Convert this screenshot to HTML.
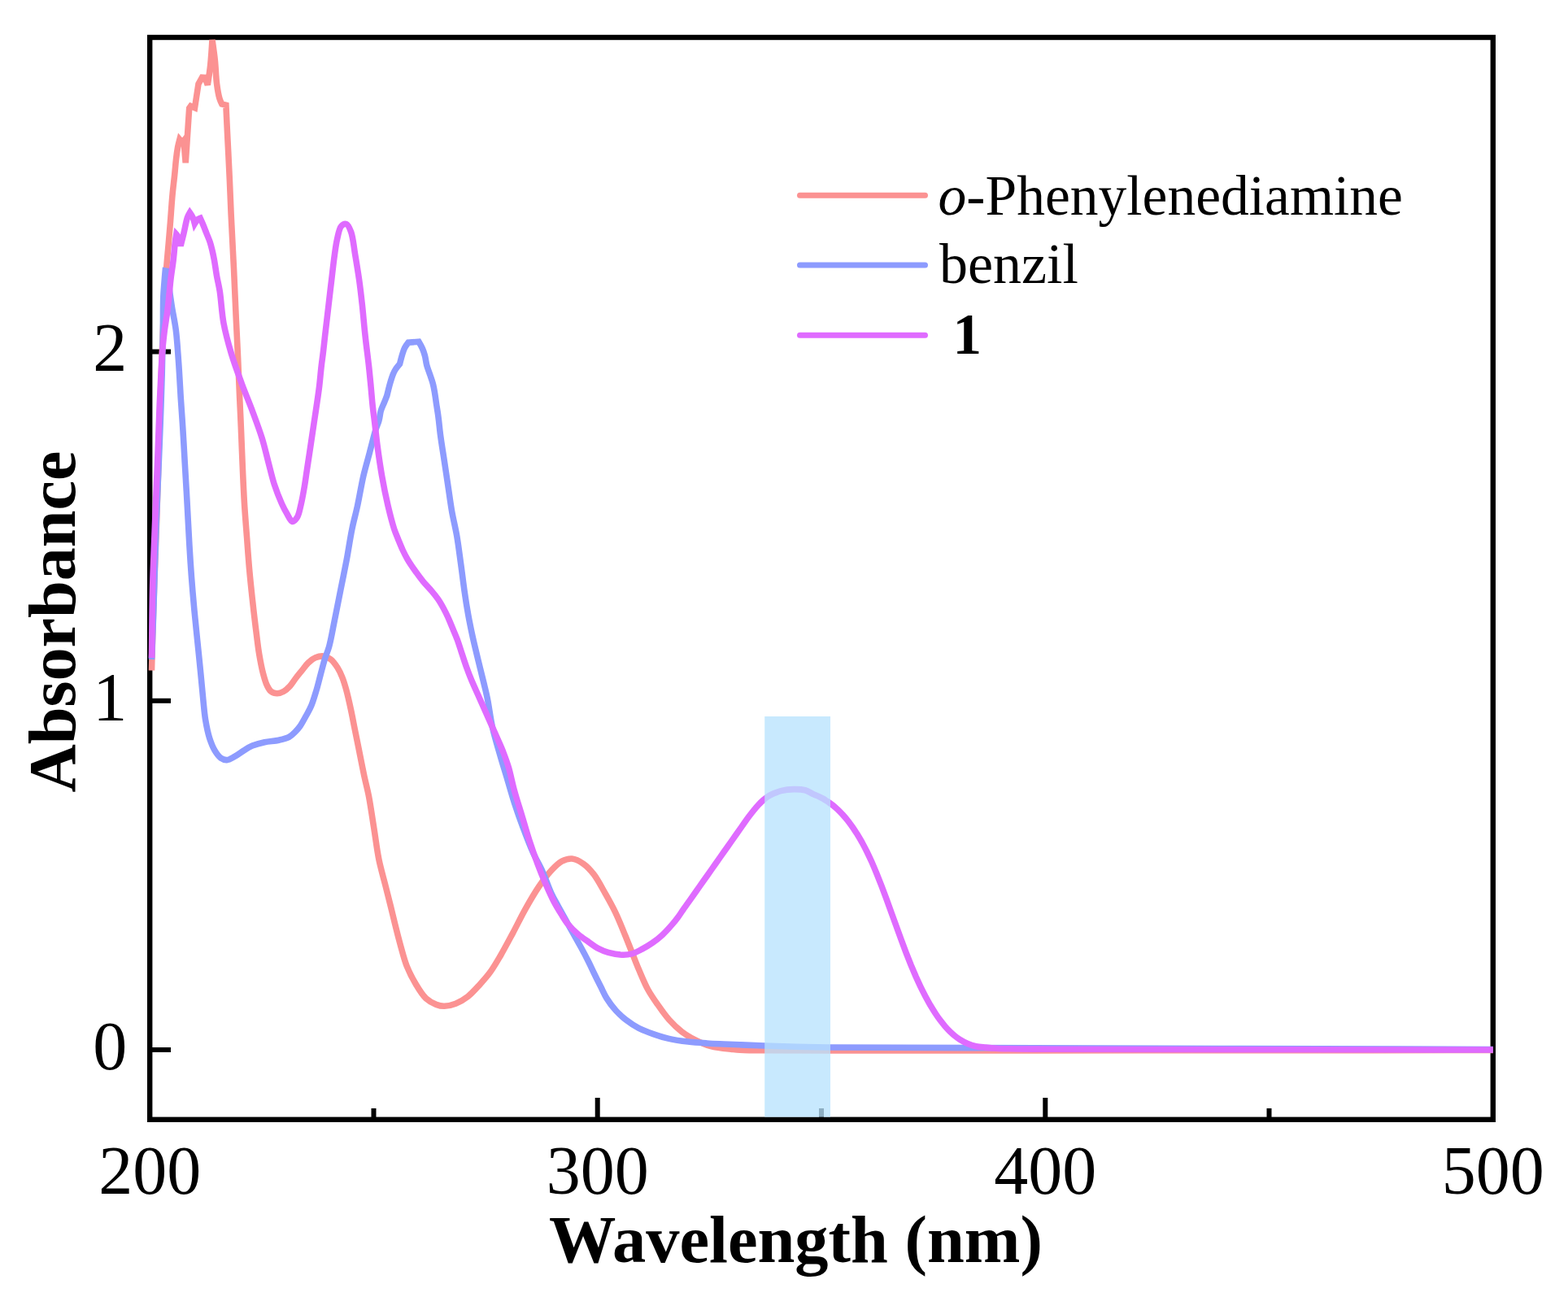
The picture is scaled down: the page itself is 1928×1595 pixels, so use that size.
<!DOCTYPE html>
<html><head><meta charset="utf-8"><title>Absorbance spectra</title>
<style>html,body{margin:0;padding:0;background:#fff;overflow:hidden}svg{display:block}</style>
</head><body>
<svg width="1928" height="1595" viewBox="0 0 1928 1595">
<rect x="0" y="0" width="1928" height="1595" fill="#ffffff"/>
<rect x="184.2" y="46.0" width="1651.6" height="1330.8" fill="none" stroke="#000" stroke-width="6.4"/>
<line x1="184.2" y1="1291.0" x2="210" y2="1291.0" stroke="#000" stroke-width="6"/>
<line x1="184.2" y1="861.8" x2="210" y2="861.8" stroke="#000" stroke-width="6"/>
<line x1="184.2" y1="432.5" x2="210" y2="432.5" stroke="#000" stroke-width="6"/>
<line x1="734.7" y1="1376.8" x2="734.7" y2="1350" stroke="#000" stroke-width="6"/>
<line x1="1285.3" y1="1376.8" x2="1285.3" y2="1350" stroke="#000" stroke-width="6"/>
<line x1="459.5" y1="1376.8" x2="459.5" y2="1363" stroke="#000" stroke-width="6"/>
<line x1="1010.0" y1="1376.8" x2="1010.0" y2="1363" stroke="#000" stroke-width="6"/>
<line x1="1560.5" y1="1376.8" x2="1560.5" y2="1363" stroke="#000" stroke-width="6"/>
<path d="M186.5,824.5 C187.1,803.0 187.6,781.1 188.3,760.0 C188.9,739.6 189.7,720.0 190.4,700.0 C191.1,680.0 191.9,660.0 192.6,640.0 C193.3,620.0 194.0,600.0 194.6,580.0 C195.2,560.0 195.5,540.0 196.1,520.0 C196.7,500.0 197.7,479.1 198.4,460.0 C199.0,442.6 199.5,426.2 200.2,410.0 C200.9,394.6 201.6,379.1 202.4,365.0 C203.1,352.6 203.8,341.2 204.6,330.0 C205.4,319.6 206.4,309.5 207.2,300.0 C207.9,291.3 208.6,284.0 209.3,275.0 C210.2,264.3 211.0,250.7 212.0,240.0 C212.8,231.0 213.9,222.8 214.7,215.0 C215.4,208.2 215.8,202.0 216.5,196.0 C217.1,190.7 217.8,185.4 218.6,181.0 C219.3,177.5 220.9,171.5 220.9,171.5 C220.9,171.5 224.3,175.4 224.3,175.4 C224.3,175.4 226.0,173.2 226.0,173.2 C226.0,173.2 228.2,200.3 228.2,200.3 C228.2,200.3 229.3,184.8 229.9,175.4 C230.7,163.1 232.7,133.0 232.7,133.0 C232.7,133.0 234.5,130.5 234.5,130.5 C234.5,130.5 239.5,132.6 239.5,132.6 C239.5,132.6 244.0,103.2 244.0,103.2 C244.0,103.2 248.5,95.3 248.5,95.3 C248.5,95.3 252.0,95.5 252.0,95.5 C252.0,95.5 255.3,104.3 255.3,104.3 C255.3,104.3 257.8,88.6 258.7,80.0 C259.7,70.3 261.0,49.0 261.0,49.0 C261.0,49.0 263.4,65.2 264.3,73.9 C265.3,83.3 265.5,94.6 266.6,103.2 C267.5,110.0 268.6,116.8 270.0,121.3 C270.8,124.1 272.8,128.0 272.8,128.0 C272.8,128.0 277.9,129.2 277.9,129.2 C277.9,129.2 278.6,144.3 279.0,152.9 C279.5,163.2 280.1,175.5 280.7,186.7 C281.2,197.8 281.8,208.2 282.3,220.0 C282.9,233.4 283.5,249.1 284.1,262.9 C284.7,275.8 285.4,288.7 286.0,300.5 C286.5,310.9 286.9,318.3 287.5,330.0 C288.3,347.0 289.4,373.3 290.3,392.7 C291.1,409.6 291.9,424.0 292.6,440.0 C293.3,456.4 294.0,474.8 294.7,490.0 C295.3,502.7 295.8,512.8 296.3,525.0 C296.9,538.4 297.3,552.1 298.0,567.0 C298.7,583.9 299.6,604.5 300.6,621.0 C301.5,635.1 302.5,646.9 303.5,660.0 C304.5,673.2 305.4,686.9 306.6,700.0 C307.7,712.7 309.0,724.7 310.4,737.6 C311.9,751.3 313.8,767.7 315.4,780.0 C316.6,789.5 317.4,797.0 318.8,805.1 C320.1,812.7 321.5,820.3 323.2,827.0 C324.7,832.7 326.2,838.5 328.2,842.7 C329.7,845.8 331.0,848.5 333.2,850.2 C335.3,851.8 338.2,852.7 340.8,852.7 C343.5,852.7 346.4,851.6 348.9,850.2 C351.6,848.7 354.1,846.4 356.4,843.9 C358.9,841.2 360.9,837.6 363.3,834.5 C365.7,831.3 368.2,828.3 370.8,825.1 C373.5,821.8 376.0,817.9 379.0,815.1 C381.7,812.5 384.6,810.1 387.8,808.8 C390.9,807.5 394.6,806.6 397.8,807.0 C400.9,807.3 403.9,808.7 406.6,810.7 C409.8,813.1 412.6,817.3 415.0,821.0 C417.4,824.8 419.3,829.0 421.0,833.3 C422.8,837.9 424.1,842.3 425.6,847.8 C427.6,855.0 429.7,864.5 431.5,872.9 C433.3,881.2 434.7,889.1 436.5,897.9 C438.5,907.8 440.8,919.4 442.8,929.3 C444.6,938.3 446.2,946.6 448.0,955.0 C449.8,963.2 451.7,970.1 453.5,979.2 C455.7,990.7 457.7,1005.3 459.8,1018.4 C461.9,1031.5 463.5,1045.3 466.0,1057.6 C468.3,1068.7 471.4,1078.9 473.9,1088.9 C476.2,1098.0 478.4,1106.6 480.5,1115.0 C482.4,1122.8 484.1,1129.9 486.0,1137.6 C488.0,1145.8 490.2,1154.4 492.5,1162.7 C494.9,1171.1 496.9,1179.8 500.1,1187.8 C503.2,1195.6 507.2,1203.4 511.3,1210.3 C515.1,1216.7 519.2,1223.6 523.9,1227.9 C527.7,1231.4 532.3,1233.8 536.4,1235.4 C539.8,1236.7 542.9,1237.4 546.5,1237.3 C550.7,1237.2 555.7,1236.0 560.3,1234.2 C565.4,1232.2 570.5,1229.1 575.3,1225.4 C580.6,1221.3 585.6,1215.4 590.3,1210.3 C594.8,1205.4 598.9,1200.8 602.9,1195.3 C607.3,1189.2 611.1,1182.5 615.4,1175.2 C620.3,1166.8 625.5,1156.9 630.5,1147.6 C635.6,1138.1 640.2,1128.3 645.5,1118.8 C650.9,1109.2 656.7,1099.0 662.5,1090.5 C667.6,1083.0 673.0,1075.7 678.2,1070.2 C682.4,1065.7 686.3,1061.6 690.8,1059.2 C694.7,1057.1 699.1,1055.6 703.3,1056.0 C707.9,1056.4 713.1,1059.3 717.4,1062.3 C722.0,1065.5 725.9,1069.8 729.9,1074.9 C734.9,1081.3 739.5,1090.5 744.0,1098.4 C748.4,1106.2 752.6,1113.6 756.6,1121.9 C760.9,1130.9 765.2,1141.7 768.8,1150.5 C771.9,1158.0 774.3,1164.4 777.1,1171.3 C779.9,1178.2 782.3,1184.8 785.4,1192.0 C788.8,1199.9 792.5,1209.2 796.6,1216.7 C800.3,1223.5 804.4,1229.3 808.7,1235.4 C813.1,1241.7 817.6,1248.3 822.7,1254.0 C827.6,1259.5 833.0,1264.7 838.6,1269.0 C843.9,1273.1 849.5,1276.3 855.4,1279.2 C861.3,1282.2 867.2,1284.9 874.0,1286.7 C881.8,1288.8 893.4,1289.7 900.0,1290.4 C904.0,1290.8 905.6,1291.0 909.7,1291.2 C917.0,1291.6 925.9,1291.7 940.0,1291.8 C972.3,1292.1 1038.4,1292.0 1100.0,1292.0 C1184.4,1292.0 1290.7,1291.9 1400.0,1291.8 C1531.7,1291.7 1690.5,1291.6 1835.8,1291.5" fill="none" stroke="#FB9292" stroke-width="7.6" stroke-linejoin="miter" stroke-miterlimit="3" stroke-linecap="butt"/>
<path d="M186.5,811.0 C187.2,794.0 187.9,777.7 188.5,760.0 C189.2,740.8 189.7,720.0 190.3,700.0 C190.9,680.0 191.6,660.0 192.3,640.0 C193.1,620.0 194.0,600.0 194.8,580.0 C195.6,560.0 196.5,540.0 197.2,520.0 C197.9,500.0 198.7,479.1 199.2,460.0 C199.7,442.6 200.0,426.2 200.3,410.0 C200.6,394.6 200.3,377.0 200.8,365.0 C201.1,357.0 201.8,350.8 202.2,345.0 C202.5,340.5 203.2,333.0 203.2,333.0 C203.2,333.0 205.8,333.5 205.8,333.5 C205.8,333.5 207.6,350.3 208.6,358.0 C209.5,365.0 210.4,370.8 211.5,378.0 C212.9,386.6 215.0,395.9 216.3,406.0 C217.8,417.7 218.5,430.7 219.5,444.0 C220.6,458.6 221.4,475.2 222.3,490.0 C223.2,503.8 224.2,516.7 225.0,530.0 C225.8,543.3 226.5,555.9 227.3,570.0 C228.2,585.8 229.3,603.5 230.2,620.3 C231.1,637.0 232.0,654.8 232.9,670.5 C233.7,684.5 234.5,696.8 235.5,710.0 C236.5,723.3 237.7,737.0 238.9,750.2 C240.1,762.9 241.4,775.3 242.7,787.8 C244.0,800.3 245.3,813.1 246.5,825.4 C247.7,837.2 248.7,849.4 249.8,860.0 C250.7,869.0 251.3,877.0 252.6,885.1 C253.9,892.8 255.5,900.9 257.6,907.6 C259.4,913.2 261.4,918.4 263.9,922.7 C266.1,926.4 268.6,930.1 271.4,932.1 C273.7,933.7 276.2,934.7 278.9,934.6 C282.0,934.5 285.5,932.0 288.9,930.2 C292.6,928.2 296.5,925.0 300.2,922.7 C303.6,920.6 306.5,918.7 310.3,917.1 C314.7,915.3 320.1,913.8 325.3,912.7 C330.9,911.5 337.6,911.4 342.9,910.2 C347.5,909.2 351.9,908.3 355.4,906.4 C358.4,904.8 360.6,902.4 362.9,900.1 C365.1,897.9 367.0,895.8 369.0,893.0 C371.5,889.4 374.2,884.3 376.5,880.0 C378.7,875.9 380.9,872.4 382.8,867.8 C385.1,862.3 387.1,855.3 389.0,849.0 C390.9,842.8 392.3,836.5 394.0,830.2 C395.7,823.9 397.3,817.3 399.1,811.3 C400.8,805.6 402.9,801.4 404.7,795.0 C407.1,786.2 409.1,774.2 411.3,763.2 C413.7,751.2 416.3,738.1 418.8,725.6 C421.3,713.1 423.9,700.5 426.3,688.0 C428.6,675.5 430.5,662.0 432.9,650.4 C435.0,640.3 437.3,632.3 439.5,622.2 C442.0,610.6 444.3,596.2 447.0,584.6 C449.4,574.5 452.0,565.8 454.5,556.4 C457.0,547.0 459.8,535.4 462.0,528.2 C463.4,523.6 465.0,520.8 466.0,517.0 C467.1,513.2 467.2,509.1 468.3,505.3 C469.4,501.5 471.5,497.5 472.8,494.1 C473.9,491.3 475.8,486.5 475.8,486.5 C475.8,486.5 478.3,476.1 479.6,471.5 C480.8,467.4 482.0,463.3 483.3,460.2 C484.3,457.8 485.0,456.2 486.3,454.2 C487.7,451.9 491.6,447.4 491.6,447.4 C491.6,447.4 493.5,439.6 494.6,436.1 C495.5,433.1 496.3,430.3 497.6,427.8 C498.8,425.4 502.1,421.1 502.1,421.1 C502.1,421.1 514.9,420.3 514.9,420.3 C514.9,420.3 518.1,425.7 519.4,428.6 C520.7,431.5 521.6,434.4 522.5,437.6 C523.4,441.1 523.7,445.2 524.7,448.9 C525.7,452.7 527.2,456.4 528.5,460.2 C529.7,464.0 531.2,467.7 532.2,471.5 C533.2,475.2 533.8,478.8 534.5,482.8 C535.3,487.4 536.0,492.8 536.7,497.8 C537.5,502.8 538.3,507.4 539.0,512.9 C539.9,519.3 540.4,526.3 541.4,534.0 C542.6,543.4 544.5,554.9 546.1,565.4 C547.7,575.8 549.2,586.3 550.8,596.7 C552.4,607.2 553.7,617.7 555.5,628.1 C557.3,638.6 560.0,648.7 561.8,659.4 C563.7,670.6 565.1,682.4 566.7,693.8 C568.3,705.1 569.6,716.9 571.2,727.7 C572.6,737.5 574.0,746.5 575.7,755.9 C577.4,765.3 579.3,774.7 581.4,784.1 C583.5,793.5 585.8,802.9 588.1,812.3 C590.3,821.6 592.9,831.5 594.9,840.0 C596.6,847.2 598.0,852.4 599.5,860.0 C601.5,870.0 603.0,883.6 605.6,895.0 C608.1,906.1 611.5,917.1 614.6,927.7 C617.5,937.9 620.6,947.7 623.6,957.7 C626.6,967.7 629.3,977.8 632.6,987.8 C635.9,997.9 639.4,1007.9 643.2,1017.9 C647.0,1028.0 651.0,1038.6 655.2,1048.0 C659.0,1056.5 663.5,1063.8 667.2,1072.0 C671.0,1080.4 674.2,1090.5 677.7,1098.0 C680.5,1104.1 682.8,1107.9 686.1,1114.0 C690.5,1122.1 696.7,1133.3 701.7,1142.3 C706.3,1150.6 711.0,1158.9 714.9,1166.0 C718.1,1171.8 720.6,1176.6 723.3,1182.0 C726.0,1187.3 728.4,1192.7 731.0,1198.0 C733.6,1203.3 736.4,1208.9 739.0,1214.0 C741.4,1218.8 743.2,1223.3 746.1,1227.9 C749.2,1232.9 753.3,1238.4 757.3,1242.8 C761.1,1247.0 765.0,1250.5 769.5,1254.0 C774.3,1257.7 779.7,1261.4 785.4,1264.3 C791.2,1267.3 797.7,1269.6 804.0,1271.8 C810.2,1274.0 816.1,1275.9 822.7,1277.4 C830.0,1279.1 838.2,1280.2 846.0,1281.1 C853.8,1282.0 861.8,1282.5 869.4,1283.0 C876.5,1283.5 883.2,1283.7 890.0,1284.0 C896.6,1284.3 902.4,1284.5 909.7,1284.8 C918.7,1285.2 927.5,1285.6 940.0,1286.0 C960.3,1286.7 988.0,1287.5 1020.0,1288.0 C1068.0,1288.7 1132.4,1288.4 1200.0,1288.6 C1287.3,1288.9 1397.2,1289.2 1500.0,1289.5 C1608.8,1289.8 1723.9,1290.2 1835.8,1290.5" fill="none" stroke="#8D9BFE" stroke-width="7.6" stroke-linejoin="miter" stroke-miterlimit="3" stroke-linecap="butt"/>
<path d="M186.5,809.0 C186.9,779.3 187.0,747.0 187.7,720.0 C188.3,697.5 189.2,678.7 190.0,658.0 C190.8,637.1 191.7,614.8 192.5,595.0 C193.2,577.4 193.9,561.6 194.5,545.0 C195.1,528.6 195.7,511.1 196.3,496.0 C196.8,483.1 197.4,471.5 198.0,460.0 C198.6,449.5 199.0,439.5 199.8,430.0 C200.5,421.3 201.5,412.9 202.5,405.0 C203.4,398.0 204.6,391.7 205.5,385.0 C206.4,378.3 207.1,371.8 207.8,365.0 C208.6,357.8 209.1,350.2 210.0,342.8 C210.9,335.3 212.2,327.7 213.1,320.2 C214.0,312.8 214.6,303.9 215.3,298.0 C215.8,294.0 216.8,288.0 216.8,288.0 C216.8,288.0 217.8,289.1 218.3,290.1 C219.5,292.4 222.1,302.2 222.1,302.2 C222.1,302.2 224.6,292.5 225.9,287.1 C227.4,281.0 228.8,272.2 230.4,267.6 C231.4,264.9 233.4,261.5 233.4,261.5 C233.4,261.5 236.1,265.4 237.1,267.6 C238.1,269.9 239.4,275.1 239.4,275.1 C239.4,275.1 241.9,270.9 243.2,269.8 C244.2,269.0 246.2,268.3 246.2,268.3 C246.2,268.3 248.1,272.5 249.2,275.1 C250.6,278.4 252.2,282.6 253.7,286.4 C255.2,290.2 256.9,293.9 258.2,297.7 C259.4,301.4 260.3,305.2 261.2,309.0 C262.1,312.7 262.7,316.0 263.5,320.2 C264.5,325.7 265.4,332.8 266.5,339.1 C267.6,345.4 269.0,350.4 270.2,357.9 C271.9,368.7 272.6,384.6 275.0,397.6 C277.4,410.4 280.8,422.7 284.5,435.2 C288.3,447.8 293.1,460.6 297.6,472.8 C301.9,484.4 306.7,495.5 310.8,506.7 C314.8,517.5 318.9,528.3 322.1,538.7 C325.1,548.3 327.1,557.5 329.6,566.9 C332.1,576.3 334.2,586.1 337.1,595.1 C339.9,603.6 343.5,612.8 346.5,619.5 C348.7,624.4 350.7,628.2 353.0,632.0 C355.1,635.5 357.2,641.2 359.5,641.5 C361.4,641.7 363.9,638.6 365.5,636.0 C367.8,632.3 368.7,626.0 370.1,620.3 C371.7,613.6 373.2,605.2 374.4,598.0 C375.6,591.2 376.4,584.5 377.4,578.0 C378.3,571.9 379.2,566.3 380.1,560.2 C381.1,553.7 382.1,546.8 383.1,540.1 C384.1,533.4 385.1,526.7 386.1,520.0 C387.1,513.3 388.1,507.0 389.1,500.0 C390.2,492.4 391.5,484.2 392.5,476.0 C393.5,467.5 394.3,457.9 395.2,450.0 C396.0,443.4 396.8,438.1 397.5,432.0 C398.2,425.8 398.8,420.4 399.6,413.0 C400.8,402.6 402.6,387.4 404.0,375.4 C405.3,364.5 406.4,354.5 407.7,344.0 C408.9,333.6 410.2,321.8 411.5,312.7 C412.5,305.6 413.2,299.9 414.6,293.9 C415.9,288.3 417.0,280.9 419.7,278.0 C421.4,276.2 424.1,274.9 425.9,275.5 C428.2,276.3 430.0,280.9 431.6,285.1 C434.1,291.8 435.0,303.2 436.6,312.7 C438.3,322.8 440.1,333.5 441.6,344.0 C443.1,354.4 444.2,364.5 445.4,375.4 C446.7,387.4 447.7,400.5 449.1,413.0 C450.4,425.4 452.3,438.9 453.5,450.0 C454.5,459.1 455.2,466.7 456.0,475.0 C456.8,483.3 457.4,491.9 458.3,500.0 C459.1,507.6 460.1,514.4 461.0,522.0 C462.0,530.1 462.7,537.8 463.9,547.0 C465.4,558.3 467.3,572.1 469.5,584.6 C471.7,597.2 474.4,610.6 477.1,622.2 C479.5,632.3 482.2,642.9 484.6,650.4 C486.3,655.5 487.8,658.7 489.5,663.0 C491.3,667.4 493.2,672.2 495.2,676.5 C497.1,680.6 498.9,684.2 501.3,688.2 C503.9,692.6 507.1,697.2 510.3,701.7 C513.5,706.3 517.0,711.0 520.5,715.3 C523.8,719.3 527.5,722.9 530.6,726.6 C533.5,730.0 536.1,733.2 538.5,736.7 C541.0,740.3 543.2,744.2 545.3,748.0 C547.3,751.7 549.1,755.3 550.9,759.3 C552.9,763.6 554.7,768.3 556.6,772.8 C558.5,777.3 560.4,781.6 562.2,786.4 C564.2,791.7 565.9,797.7 567.8,803.3 C569.7,808.9 571.5,814.6 573.5,820.2 C575.5,825.8 577.6,831.3 580.0,837.0 C582.5,842.9 585.3,849.0 588.0,855.0 C590.7,861.0 593.3,867.0 596.0,873.0 C598.7,879.0 601.3,885.0 604.0,891.0 C606.7,897.0 609.4,903.1 612.0,909.0 C614.4,914.6 616.8,919.8 619.0,925.5 C621.3,931.5 623.4,937.1 625.5,944.0 C628.0,952.5 629.9,963.1 632.6,972.8 C635.3,982.8 638.7,992.9 641.7,1002.9 C644.7,1012.9 647.5,1022.9 650.7,1032.9 C654.0,1043.0 657.7,1053.7 661.2,1063.0 C664.3,1071.2 667.1,1078.2 670.4,1085.8 C673.8,1093.6 677.7,1102.5 681.3,1109.3 C684.2,1114.9 687.1,1119.3 690.0,1124.0 C692.7,1128.3 695.0,1132.4 698.3,1136.4 C701.8,1140.7 706.4,1145.2 710.7,1148.9 C714.7,1152.4 719.0,1155.1 723.2,1158.0 C727.3,1160.9 731.3,1164.1 735.6,1166.3 C739.6,1168.4 743.6,1170.0 748.1,1171.3 C753.2,1172.7 759.6,1174.0 764.7,1174.2 C769.1,1174.4 773.0,1174.0 777.1,1172.9 C781.4,1171.7 785.5,1169.3 789.6,1167.1 C793.8,1164.9 798.0,1162.5 802.0,1159.7 C806.3,1156.7 810.5,1153.4 814.5,1149.7 C818.8,1145.7 823.4,1140.5 826.9,1136.4 C829.7,1133.2 831.8,1130.5 834.0,1127.5 C836.1,1124.6 837.7,1122.0 840.0,1118.8 C842.9,1114.6 846.7,1109.3 850.0,1104.6 C853.3,1099.9 856.7,1095.1 860.0,1090.4 C863.3,1085.7 866.7,1080.9 870.0,1076.2 C873.3,1071.5 876.7,1066.7 880.0,1062.0 C883.3,1057.3 886.7,1052.5 890.0,1047.8 C893.3,1043.1 896.7,1038.3 900.0,1033.6 C903.3,1028.9 906.7,1024.1 910.0,1019.4 C913.3,1014.7 917.0,1009.4 920.0,1005.3 C922.4,1002.1 924.3,999.5 926.5,996.8 C928.5,994.3 930.4,992.0 932.5,989.8 C934.5,987.7 936.4,985.8 938.5,984.0 C940.6,982.2 942.6,980.4 945.0,979.0 C947.4,977.5 950.3,976.3 952.9,975.2 C955.3,974.2 957.1,973.3 960.0,972.6 C964.2,971.6 970.8,970.7 976.0,970.6 C980.8,970.5 985.8,970.7 990.0,971.8 C993.7,972.8 997.1,975.3 1000.0,976.6 C1002.2,977.6 1004.0,978.2 1006.0,979.1 C1008.0,980.0 1010.0,981.1 1012.0,982.2 C1014.0,983.3 1016.0,984.6 1018.0,985.9 C1020.0,987.3 1022.0,988.7 1024.0,990.3 C1026.0,991.9 1028.0,993.7 1030.0,995.5 C1032.0,997.4 1034.0,999.5 1036.0,1001.6 C1038.0,1003.8 1040.0,1006.1 1042.0,1008.6 C1044.0,1011.2 1046.0,1013.9 1048.0,1016.7 C1050.0,1019.6 1052.0,1022.7 1054.0,1025.8 C1056.0,1029.1 1058.0,1032.5 1060.0,1036.0 C1062.0,1039.7 1064.0,1043.5 1066.0,1047.5 C1068.0,1051.6 1070.0,1055.9 1072.0,1060.3 C1074.0,1064.9 1076.0,1069.7 1078.0,1074.5 C1080.0,1079.5 1082.0,1084.6 1084.0,1089.7 C1086.0,1095.0 1088.0,1100.3 1090.0,1105.7 C1092.0,1111.2 1094.0,1116.7 1096.0,1122.2 C1098.0,1127.7 1100.0,1133.3 1102.0,1138.8 C1104.0,1144.3 1106.0,1149.8 1108.0,1155.3 C1110.0,1160.7 1112.0,1166.0 1114.0,1171.3 C1116.0,1176.4 1118.0,1181.5 1120.0,1186.5 C1122.0,1191.3 1124.0,1196.0 1126.0,1200.6 C1128.0,1205.0 1130.0,1209.4 1132.0,1213.6 C1134.0,1217.7 1136.0,1221.6 1138.0,1225.5 C1140.0,1229.2 1142.0,1232.8 1144.0,1236.3 C1146.0,1239.6 1148.0,1242.9 1150.0,1246.0 C1152.0,1249.0 1154.0,1251.9 1156.0,1254.6 C1158.0,1257.2 1160.0,1259.7 1162.0,1262.1 C1164.0,1264.4 1166.0,1266.5 1168.0,1268.5 C1170.0,1270.4 1172.0,1272.3 1174.0,1273.9 C1176.0,1275.5 1177.7,1276.8 1180.0,1278.2 C1182.9,1280.0 1186.6,1282.1 1190.0,1283.5 C1193.3,1284.9 1196.5,1285.9 1200.0,1286.7 C1203.8,1287.5 1207.9,1287.7 1212.0,1288.1 C1216.2,1288.5 1220.5,1288.9 1225.0,1289.2 C1229.8,1289.5 1233.5,1289.6 1240.0,1289.8 C1251.8,1290.1 1270.1,1290.1 1290.0,1290.2 C1319.5,1290.4 1357.9,1290.4 1400.0,1290.5 C1456.8,1290.6 1530.6,1290.7 1600.0,1290.8 C1675.4,1290.9 1757.2,1290.9 1835.8,1291.0" fill="none" stroke="#DF6BFF" stroke-width="7.6" stroke-linejoin="miter" stroke-miterlimit="3" stroke-linecap="butt"/>
<rect x="940.2" y="881" width="80.8" height="492.6" fill="rgb(183,227,254)" fill-opacity="0.77"/>
<line x1="983.5" y1="240.3" x2="1137.5" y2="240.3" stroke="#FB9292" stroke-width="7" stroke-linecap="round"/>
<line x1="983.5" y1="326.0" x2="1137.5" y2="326.0" stroke="#8D9BFE" stroke-width="7" stroke-linecap="round"/>
<line x1="983.5" y1="412.2" x2="1137.5" y2="412.2" stroke="#DF6BFF" stroke-width="7" stroke-linecap="round"/>
<text x="156.3" y="1314.9" font-size="84" text-anchor="end" font-family="'Liberation Serif', 'Times New Roman', serif">0</text>
<text x="156.3" y="885.5" font-size="84" text-anchor="end" font-family="'Liberation Serif', 'Times New Roman', serif">1</text>
<text x="156.3" y="456.4" font-size="84" text-anchor="end" font-family="'Liberation Serif', 'Times New Roman', serif">2</text>
<text x="184.2" y="1468.2" font-size="84" text-anchor="middle" font-family="'Liberation Serif', 'Times New Roman', serif">200</text>
<text x="734.7" y="1468.2" font-size="84" text-anchor="middle" font-family="'Liberation Serif', 'Times New Roman', serif">300</text>
<text x="1285.3" y="1468.2" font-size="84" text-anchor="middle" font-family="'Liberation Serif', 'Times New Roman', serif">400</text>
<text x="1835.8" y="1468.2" font-size="84" text-anchor="middle" font-family="'Liberation Serif', 'Times New Roman', serif">500</text>
<text x="675" y="1551.5" font-size="83" font-weight="bold" font-family="'Liberation Serif', 'Times New Roman', serif" textLength="607" lengthAdjust="spacingAndGlyphs">Wavelength (nm)</text>
<text transform="translate(91.7,974.5) rotate(-90)" x="0" y="0" font-size="83" font-weight="bold" font-family="'Liberation Serif', 'Times New Roman', serif" textLength="420" lengthAdjust="spacingAndGlyphs">Absorbance</text>
<text x="1153.6" y="263.5" font-size="69.5" font-family="'Liberation Serif', 'Times New Roman', serif"><tspan font-style="italic">o</tspan>-Phenylenediamine</text>
<text x="1154.9" y="348.3" font-size="70" font-family="'Liberation Serif', 'Times New Roman', serif">benzil</text>
<text x="1153.7" y="435.1" font-size="71" font-weight="bold" font-family="'Liberation Serif', 'Times New Roman', serif" xml:space="preserve" style="white-space:pre"> 1</text>
</svg>
</body></html>
